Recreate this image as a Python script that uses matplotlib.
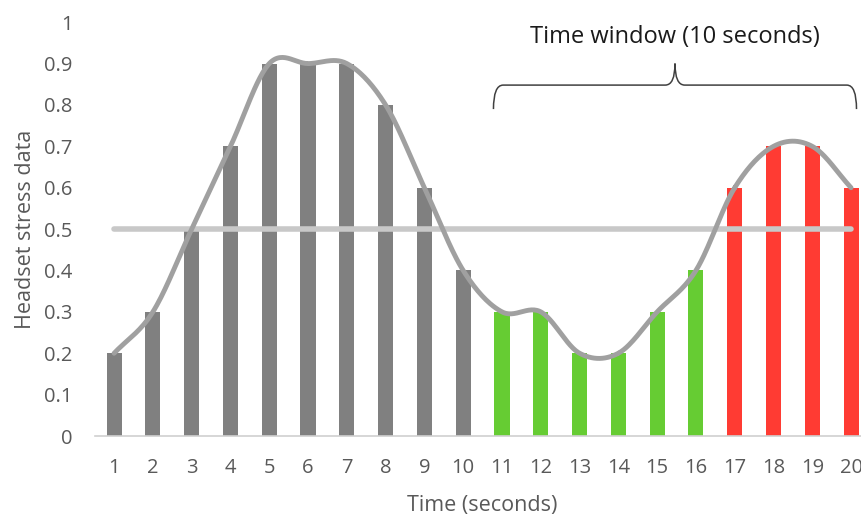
import numpy as np
import matplotlib.pyplot as plt
from matplotlib.path import Path
from matplotlib.patches import PathPatch

# data
seconds = list(range(1, 21))
stress = [0.2, 0.3, 0.5, 0.7, 0.9, 0.9, 0.9, 0.8, 0.6, 0.4,
          0.3, 0.3, 0.2, 0.2, 0.3, 0.4, 0.6, 0.7, 0.7, 0.6]
bar_colors = ['#808080'] * 10 + ['#66CC33'] * 6 + ['#FF3B33'] * 4
threshold = 0.5
window_start, window_end = 11, 20
yticks = [0, 0.1, 0.2, 0.3, 0.4, 0.5, 0.6, 0.7, 0.8, 0.9, 1]
ytick_labels = ['0', '0.1', '0.2', '0.3', '0.4', '0.5', '0.6', '0.7', '0.8', '0.9', '1']

plt.rcParams['font.family'] = ['Open Sans', 'DejaVu Sans']


def smooth(x, y, n=30):
    # catmull-rom curve through the points, like excel's smoothed line
    x = np.asarray(x, float)
    y = np.asarray(y, float)
    px = np.concatenate([[2 * x[0] - x[1]], x, [2 * x[-1] - x[-2]]])
    py = np.concatenate([[2 * y[0] - y[1]], y, [2 * y[-1] - y[-2]]])
    t = np.linspace(0, 1, n)
    xs, ys = [], []
    for i in range(1, len(px) - 2):
        for p, out in ((px, xs), (py, ys)):
            p0, p1, p2, p3 = p[i - 1], p[i], p[i + 1], p[i + 2]
            out.append(0.5 * (2 * p1 + (-p0 + p2) * t
                              + (2 * p0 - 5 * p1 + 4 * p2 - p3) * t ** 2
                              + (-p0 + 3 * p1 - 3 * p2 + p3) * t ** 3))
    return np.concatenate(xs), np.concatenate(ys)


fig = plt.figure(figsize=(8.61, 5.16), dpi=100)
ax = fig.add_axes([0.110, 0.155, 0.901, 0.802])

ax.bar(seconds, stress, width=0.39, color=bar_colors, zorder=2)
ax.plot([seconds[0], seconds[-1]], [threshold, threshold], color='#C8C8C8',
        lw=4, solid_capstyle='round', zorder=3)
sx, sy = smooth(seconds, stress)
ax.plot(sx, sy, color='#A0A0A0', lw=3.5, solid_capstyle='round', zorder=4)

# curly brace over the time window
x0, x1 = window_start - 0.22, window_end + 0.14
xm = (x0 + x1) / 2
ylo, ymid, ytop = 0.79, 0.848, 0.90
r = 0.25
verts = [(x0, ylo), (x0, ymid), (x0 + r, ymid),
         (xm - r, ymid), (xm, ymid), (xm, ytop),
         (xm, ymid), (xm + r, ymid),
         (x1 - r, ymid), (x1, ymid), (x1, ylo)]
codes = [Path.MOVETO, Path.CURVE3, Path.CURVE3,
         Path.LINETO, Path.CURVE3, Path.CURVE3,
         Path.CURVE3, Path.CURVE3,
         Path.LINETO, Path.CURVE3, Path.CURVE3]
ax.add_patch(PathPatch(Path(verts, codes), fill=False, ec='#404040', lw=1.1,
                       clip_on=False, zorder=5))
ax.text(xm, 0.964, 'Time window (10 seconds)', ha='center', va='center',
        fontsize=17, color='#1a1a1a', clip_on=False)

ax.set_xlim(0.5, 20.5)
ax.set_ylim(0, 1)
ax.set_xticks(seconds)
ax.set_yticks(yticks)
ax.set_yticklabels(ytick_labels)
ax.tick_params(length=0, labelsize=14.5, colors='#595959')
ax.tick_params(axis='x', pad=16)
ax.tick_params(axis='y', pad=16)
for side in ('top', 'right', 'left'):
    ax.spines[side].set_visible(False)
ax.spines['bottom'].set_color('#D0D0D0')
ax.spines['bottom'].set_linewidth(1.2)

ax.set_xlabel('Time (seconds)', fontsize=15.5, color='#595959', labelpad=12)
ax.set_ylabel('Headset stress data', fontsize=15.5, color='#595959', labelpad=6)

fig.savefig('out.png', dpi=100)
